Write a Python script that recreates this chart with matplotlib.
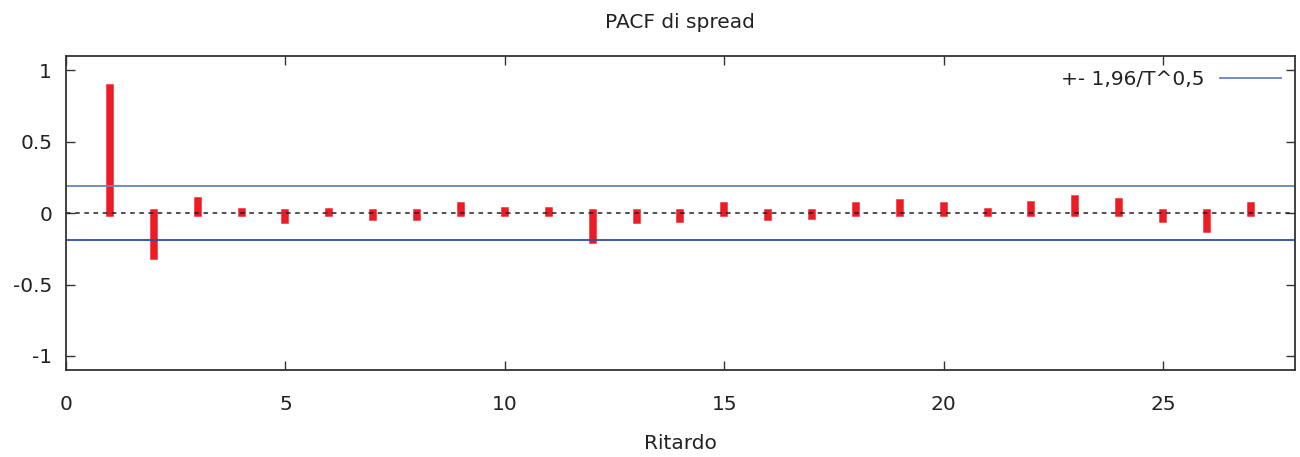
import numpy as np
import matplotlib.pyplot as plt

# partial autocorrelations of the spread, lags 1..27
lags = np.arange(1, 28)
pacf = [0.874, -0.298, 0.084, 0.008, -0.050, 0.008, -0.024, -0.024, 0.047,
        0.016, 0.012, -0.190, -0.047, -0.043, 0.051, -0.029, -0.019, 0.047,
        0.070, 0.047, 0.006, 0.054, 0.098, 0.079, -0.040, -0.108, 0.047]
band = 0.188  # 1.96 / sqrt(T)

fs = 14.5
fig = plt.figure(figsize=(13, 4.57), dpi=100)
ax = fig.add_axes([0.0508, 0.190, 0.9452, 0.687])

ax.vlines(lags, 0, pacf, color='#ed1c24', linewidth=5.4, capstyle='projecting')
ax.axhline(0, color='#222222', linestyle=(0, (3, 3)), linewidth=1.1)
ax.axhline(band, color='#6a82c2', linewidth=1.3, label='+- 1,96/T^0,5')
ax.axhline(-band, color='#2f4fa5', linewidth=1.3)

ax.set_xlim(0, 28)
ax.set_ylim(-1.1, 1.1)
ax.set_xticks([0, 5, 10, 15, 20, 25])
ax.set_yticks([-1, -0.5, 0, 0.5, 1])
ax.set_yticklabels(['-1', '-0.5', '0', '0.5', '1'])
ax.tick_params(direction='in', length=6.5, width=1, color='#333333',
               top=True, right=True, labelsize=fs, labelcolor='#222222')
ax.tick_params(axis='x', pad=18)
ax.tick_params(axis='y', pad=10)
for s in ax.spines.values():
    s.set_linewidth(1.3)
    s.set_color('#333333')

ax.set_title('PACF di spread', fontsize=fs, pad=20, color='#222222')
ax.set_xlabel('Ritardo', fontsize=fs, labelpad=14, color='#222222')

ax.legend(loc='upper right', frameon=False, markerfirst=False, fontsize=fs,
          handlelength=3.0, handletextpad=0.8, borderaxespad=0.3,
          labelcolor='#222222')

fig.savefig('out.png', dpi=100)
